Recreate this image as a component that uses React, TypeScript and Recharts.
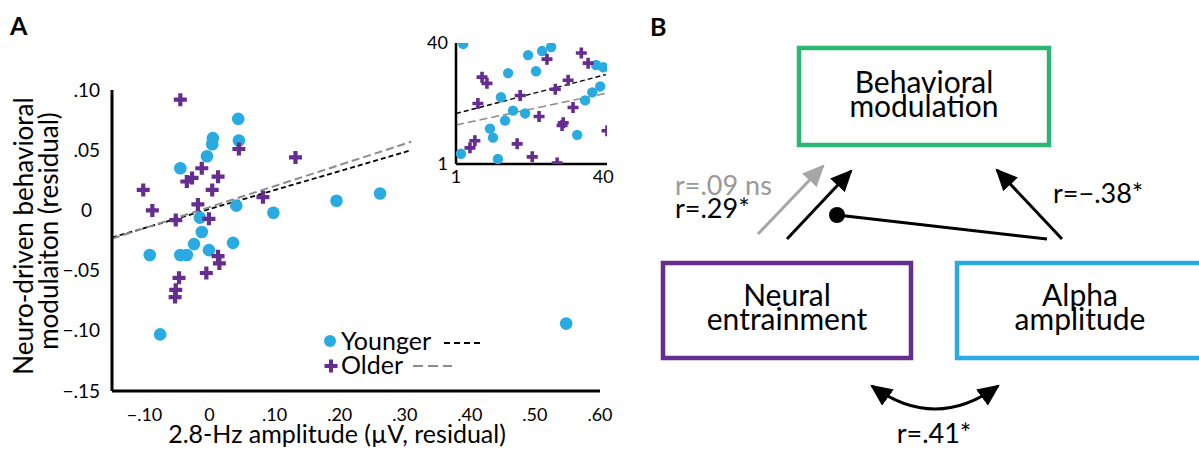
import React from 'react';
import { ScatterChart, Scatter, XAxis, YAxis, ReferenceLine } from 'recharts';

const BLUE = '#29abe2';
const PURPLE = '#662d91';
const GREEN = '#2bb673';
const GREY = '#8c8c8c';

// panel A: 2.8-Hz amplitude (x) vs neuro-driven behavioral modulation (y), residuals
const youngerAmp = [0.044, 0.005, 0.004, 0.045, -0.004, -0.045, 0.041, 0.098, -0.015, -0.012, -0.024, 0.036, -0.092, -0.045, -0.035, -0.001, -0.076, 0.195, 0.262, 0.548];
const youngerMod = [0.076, 0.06, 0.055, 0.058, 0.045, 0.035, 0.004, -0.002, -0.006, -0.018, -0.028, -0.027, -0.037, -0.037, -0.037, -0.033, -0.103, 0.008, 0.014, -0.094];
const olderAmp = [-0.045, 0.045, 0.132, -0.012, 0.013, -0.035, -0.027, -0.102, 0.004, 0.082, -0.088, -0.018, -0.052, -0.001, 0.013, 0.015, -0.047, -0.052, -0.053, -0.005];
const olderMod = [0.092, 0.051, 0.044, 0.035, 0.028, 0.024, 0.027, 0.017, 0.017, 0.011, 0.0, 0.005, -0.008, -0.007, -0.038, -0.044, -0.056, -0.066, -0.072, -0.052];

// fitted lines (start / end)
const fitX = [-0.15, 0.31];
const youngerFitY = [-0.0225, 0.05];
const olderFitY = [-0.0235, 0.057];

const xTicks = [-0.1, 0, 0.1, 0.2, 0.3, 0.4, 0.5, 0.6];
const yTicks = [-0.15, -0.1, -0.05, 0, 0.05, 0.1];

// inset: rank-transformed data (1..40)
const youngerRankX = [2.9, 20.1, 23.8, 26.2, 14.8, 22.2, 38.1, 40, 12.9, 39.2, 37.1, 35.2, 16.1, 19.3, 14.0, 10.0, 10.8, 33.1, 2.3, 12.1];
const youngerRankY = [39.7, 36.1, 37.4, 38.7, 30.3, 30.9, 32.9, 32.2, 22.5, 26.0, 24.1, 21.5, 18.2, 17.3, 15.0, 12.4, 9.5, 10.4, 4.3, 2.6];
const olderRankX = [34.2, 25.1, 36.0, 7.9, 9.2, 30.7, 27.3, 18.0, 6.8, 32.0, 23.0, 29.4, 29.1, 41, 6.0, 4.7, 17.2, 21.2, 27.8];
const olderRankY = [36.8, 34.8, 33.5, 29.0, 27.0, 28.0, 25.1, 23.1, 20.5, 19.2, 16.3, 14.3, 13.4, 11.7, 8.5, 6.2, 7.5, 3.3, 1.3];

const insetFitX = [1, 40.7];
const insetYoungerFitY = [17.3, 29.8];
const insetOlderFitY = [13.6, 23.8];
const insetTicks = [1, 40];

const zip = (xs: number[], ys: number[]) => xs.map((x, i) => ({ x, y: ys[i] }));

const younger = zip(youngerAmp, youngerMod);
const older = zip(olderAmp, olderMod);
const youngerRank = zip(youngerRankX, youngerRankY);
const olderRank = zip(olderRankX, olderRankY);

const fmt = (v: number) =>
  v === 0 ? '0' : (v < 0 ? '\u2212' : '') + Math.abs(v).toFixed(2).replace(/^0/, '');

const plusPath = (cx: number, cy: number, s: number, t: number) => {
  const h = s / 2;
  const w = t / 2;
  return `M${cx - w},${cy - h}H${cx + w}V${cy - w}H${cx + h}V${cy + w}H${cx + w}V${cy + h}H${cx - w}V${cy + w}H${cx - h}V${cy - w}H${cx - w}Z`;
};

const dot = (r: number) => (p: any) => <circle cx={p.cx} cy={p.cy} r={r} fill={BLUE} />;
const plus = (s: number, t: number) => (p: any) => <path d={plusPath(p.cx, p.cy, s, t)} fill={PURPLE} />;

const XTick = (p: any) => (
  <text x={p.x} y={p.y + 30} textAnchor="middle" fontSize={18} fill="#000">
    {fmt(p.payload.value)}
  </text>
);

const YTick = (p: any) => (
  <text x={p.x - 12 - (p.payload.value === 0 ? 8 : 0)} y={p.y} dy="0.35em" textAnchor="end" fontSize={19} fill="#000">
    {fmt(p.payload.value)}
  </text>
);

const InsetXTick = (p: any) => (
  <text x={p.x} y={p.y + 19} textAnchor="middle" fontSize={18} fill="#000">
    {p.payload.value}
  </text>
);

const InsetYTick = (p: any) => (
  <text x={p.x - 8} y={p.y} dy="0.35em" textAnchor="end" fontSize={18} fill="#000">
    {p.payload.value}
  </text>
);

const XTitle = () => (
  <text x={337} y={443} textAnchor="middle" fontSize={25} fill="#000">
    2.8-Hz amplitude (µV, residual)
  </text>
);

const YTitle = () => (
  <g fill="#000" fontSize={26}>
    <text transform="translate(33,236) rotate(-90)" textAnchor="middle">Neuro-driven behavioral</text>
    <text transform="translate(58,231) rotate(-90)" textAnchor="middle">modulaiton (residual)</text>
  </g>
);

const LegendBox = () => (
  <svg width={200} height={60} style={{ position: 'absolute', left: 320, top: 320, overflow: 'visible' }}>
    <circle cx={10} cy={21} r={6} fill={BLUE} />
    <text x={21} y={30} fontSize={25} fill="#000">Younger</text>
    <line x1={124} y1={23} x2={163} y2={23} stroke="#000" strokeWidth={1.8} strokeDasharray="6 4" />
    <path d={plusPath(11, 46, 13, 4)} fill={PURPLE} />
    <text x={21} y={54} fontSize={25} fill="#000">Older</text>
    <line x1={93} y1={46} x2={132} y2={46} stroke={GREY} strokeWidth={2} strokeDasharray="10 5" />
  </svg>
);

function PanelB() {
  return (
    <svg width={1199} height={453} style={{ position: 'absolute', left: 0, top: 0, pointerEvents: 'none' }}>
      <defs>
        <marker id="ahBlack" viewBox="0 0 10 10" refX={9} refY={5} markerWidth={22} markerHeight={20}
          markerUnits="userSpaceOnUse" orient="auto-start-reverse" preserveAspectRatio="none">
          <path d="M0,0 L10,5 L0,10 z" fill="#000" />
        </marker>
        <marker id="ahGrey" viewBox="0 0 10 10" refX={9} refY={5} markerWidth={22} markerHeight={20}
          markerUnits="userSpaceOnUse" orient="auto-start-reverse" preserveAspectRatio="none">
          <path d="M0,0 L10,5 L0,10 z" fill="#a6a6a6" />
        </marker>
      </defs>
      <text x={650} y={36} fontSize={25} fontWeight={700} fill="#000">B</text>

      <rect x={799} y={48} width={250} height={97} fill="none" stroke={GREEN} strokeWidth={4.5} />
      <text x={924} y={93} textAnchor="middle" fontSize={30} fill="#000">Behavioral</text>
      <text x={924} y={117} textAnchor="middle" fontSize={30} fill="#000">modulation</text>

      <rect x={663} y={263} width={248} height={95} fill="none" stroke={PURPLE} strokeWidth={4.5} />
      <text x={787} y={306} textAnchor="middle" fontSize={30} fill="#000">Neural</text>
      <text x={787} y={330} textAnchor="middle" fontSize={30} fill="#000">entrainment</text>

      <rect x={957} y={263} width={260} height={95} fill="none" stroke={BLUE} strokeWidth={4.5} />
      <text x={1080} y={306} textAnchor="middle" fontSize={30} fill="#000">Alpha</text>
      <text x={1080} y={330} textAnchor="middle" fontSize={30} fill="#000">amplitude</text>

      <line x1={758} y1={234} x2={823} y2={166} stroke="#a6a6a6" strokeWidth={3} markerEnd="url(#ahGrey)" />
      <line x1={787} y1={239} x2={851} y2={171} stroke="#000" strokeWidth={3} markerEnd="url(#ahBlack)" />
      <line x1={1062} y1={239} x2={997} y2={170} stroke="#000" strokeWidth={3} markerEnd="url(#ahBlack)" />
      <line x1={837} y1={215} x2={1047} y2={239} stroke="#000" strokeWidth={3} />
      <circle cx={837} cy={215} r={8} fill="#000" />

      <text x={675} y={195} fontSize={27} fill="#999">r=.09 ns</text>
      <text x={675} y={218} fontSize={27} fill="#000">r=.29*</text>
      <text x={1053} y={203} fontSize={27} fill="#000">r=−.38*</text>

      <path d="M872,386 Q935,432 998,386" fill="none" stroke="#000" strokeWidth={3}
        markerStart="url(#ahBlack)" markerEnd="url(#ahBlack)" />
      <text x={934} y={443} textAnchor="middle" fontSize={27} fill="#000">r=.41*</text>
    </svg>
  );
}

export default function App() {
  return (
    <div style={{ position: 'absolute', left: 0, top: 0, width: 1199, height: 453, background: '#fff', fontFamily: 'Lato, sans-serif', overflow: 'hidden' }}>
      <svg width={60} height={50} style={{ position: 'absolute', left: 0, top: 0 }}>
        <text x={10} y={35} fontSize={25} fontWeight={700} fill="#000">A</text>
      </svg>

      <div style={{ position: 'absolute', left: 0, top: 0 }}>
        <ScatterChart width={640} height={453} margin={{ top: 90, right: 40, bottom: 32, left: 52 }}>
          <XAxis
            type="number"
            dataKey="x"
            domain={[-0.15, 0.6]}
            ticks={xTicks}
            allowDataOverflow
            axisLine={{ stroke: '#000', strokeWidth: 3 }}
            tickLine={false}
            tickSize={0}
            tickMargin={0}
            tick={<XTick />}
            height={30}
            label={<XTitle />}
          />
          <YAxis
            type="number"
            dataKey="y"
            domain={[-0.15, 0.1]}
            ticks={yTicks}
            allowDataOverflow
            axisLine={{ stroke: '#000', strokeWidth: 3 }}
            tickLine={false}
            tickSize={0}
            tickMargin={0}
            tick={<YTick />}
            width={60}
            label={<YTitle />}
          />
          <ReferenceLine
            segment={[{ x: fitX[0], y: youngerFitY[0] }, { x: fitX[1], y: youngerFitY[1] }]}
            stroke="#000"
            strokeWidth={1.8}
            strokeDasharray="5 3"
            ifOverflow="visible"
          />
          <ReferenceLine
            segment={[{ x: fitX[0], y: olderFitY[0] }, { x: fitX[1], y: olderFitY[1] }]}
            stroke={GREY}
            strokeWidth={2}
            strokeDasharray="8 4"
            ifOverflow="visible"
          />
          <Scatter name="Younger" data={younger} shape={dot(6.3)} isAnimationActive={false} />
          <Scatter name="Older" data={older} shape={plus(13, 4.2)} isAnimationActive={false} />
        </ScatterChart>
      </div>

      <LegendBox />

      <div style={{ position: 'absolute', left: 400, top: 0 }}>
        <ScatterChart width={230} height={200} margin={{ top: 43, right: 23, bottom: 16, left: 26 }}>
          <XAxis
            type="number"
            dataKey="x"
            domain={[1, 41]}
            ticks={insetTicks}
            allowDataOverflow
            axisLine={{ stroke: '#000', strokeWidth: 2.5 }}
            tickLine={false}
            tickSize={0}
            tickMargin={0}
            tick={<InsetXTick />}
            height={20}
          />
          <YAxis
            type="number"
            dataKey="y"
            domain={[1, 40]}
            ticks={insetTicks}
            allowDataOverflow
            axisLine={{ stroke: '#000', strokeWidth: 2.5 }}
            tickLine={false}
            tickSize={0}
            tickMargin={0}
            tick={<InsetYTick />}
            width={30}
          />
          <ReferenceLine
            segment={[{ x: insetFitX[0], y: insetYoungerFitY[0] }, { x: insetFitX[1], y: insetYoungerFitY[1] }]}
            stroke="#000"
            strokeWidth={1.5}
            strokeDasharray="5 3"
            ifOverflow="visible"
          />
          <ReferenceLine
            segment={[{ x: insetFitX[0], y: insetOlderFitY[0] }, { x: insetFitX[1], y: insetOlderFitY[1] }]}
            stroke={GREY}
            strokeWidth={1.5}
            strokeDasharray="8 4"
            ifOverflow="visible"
          />
          <Scatter name="Younger" data={youngerRank} shape={dot(5.2)} isAnimationActive={false} />
          <Scatter name="Older" data={olderRank} shape={plus(11, 3.6)} isAnimationActive={false} />
        </ScatterChart>
      </div>

      <PanelB />
    </div>
  );
}
